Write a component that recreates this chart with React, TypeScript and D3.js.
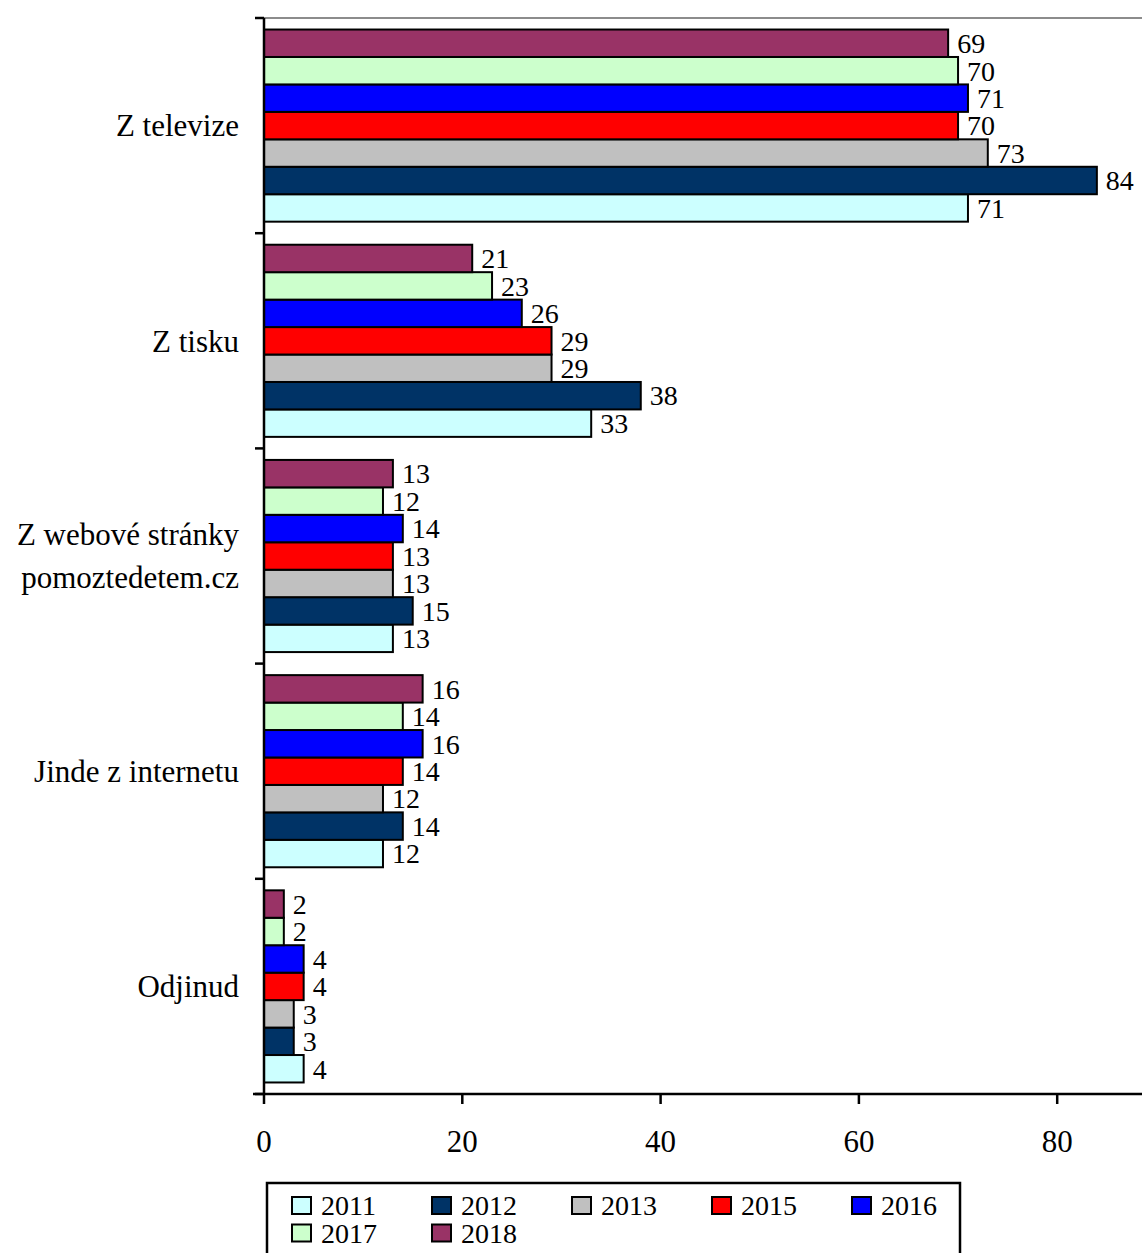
import { useEffect, useRef } from "react";
import * as d3 from "d3";

const categories = ["Z televize", "Z tisku", "Z webové stránky|pomoztedetem.cz", "Jinde z internetu", "Odjinud"];
const years = ["2011", "2012", "2013", "2015", "2016", "2017", "2018"];
const colors = ["#CCFFFF", "#003366", "#C0C0C0", "#FF0000", "#0000FF", "#CCFFCC", "#993366"];

const values2011 = [71, 33, 13, 12, 4];
const values2012 = [84, 38, 15, 14, 3];
const values2013 = [73, 29, 13, 12, 3];
const values2015 = [70, 29, 13, 14, 4];
const values2016 = [71, 26, 14, 16, 4];
const values2017 = [70, 23, 12, 14, 2];
const values2018 = [69, 21, 13, 16, 2];

const xTicks = [0, 20, 40, 60, 80];

const seriesValues = [values2011, values2012, values2013, values2015, values2016, values2017, values2018];

export default function App() {
    const chartRef = useRef<SVGSVGElement | null>(null);

    useEffect(() => {
        if (!chartRef.current) return;

        const width = 1142;
        const height = 1253;
        const left = 264;
        const top = 18;
        const bottom = 1094;
        const font = "'Liberation Serif', 'Times New Roman', serif";

        d3.select(chartRef.current).selectAll("*").remove();

        const svg = d3.select(chartRef.current)
            .attr("width", width)
            .attr("height", height);

        const x = d3.scaleLinear().domain([0, 90]).range([left, left + 90 * 9.915]);

        const y0 = d3.scaleBand<string>().domain(categories).range([top, bottom]);

        // 2018 on top, 2011 at the bottom of each group
        const y1 = d3.scaleBand<string>()
            .domain(years.slice().reverse())
            .range([0, y0.bandwidth()])
            .paddingInner(0)
            .paddingOuter(0.42);

        // plot area border (only top visible)
        svg.append("rect")
            .attr("x", left)
            .attr("y", top)
            .attr("width", x(90) - left)
            .attr("height", bottom - top)
            .attr("fill", "none")
            .attr("stroke", "#8c8c8c")
            .attr("stroke-width", 2);

        const rows = categories.flatMap((c, ci) =>
            years.map((yr, yi) => ({ category: c, year: yr, value: seriesValues[yi][ci], color: colors[yi] }))
        );

        svg.selectAll("rect.bar")
            .data(rows)
            .enter()
            .append("rect")
            .attr("class", "bar")
            .attr("x", x(0))
            .attr("y", (d) => (y0(d.category) ?? 0) + (y1(d.year) ?? 0))
            .attr("width", (d) => x(d.value) - x(0))
            .attr("height", y1.bandwidth())
            .attr("fill", (d) => d.color)
            .attr("stroke", "#000")
            .attr("stroke-width", 2);

        svg.selectAll("text.val")
            .data(rows)
            .enter()
            .append("text")
            .attr("class", "val")
            .attr("x", (d) => x(d.value) + 9)
            .attr("y", (d) => (y0(d.category) ?? 0) + (y1(d.year) ?? 0) + y1.bandwidth() / 2)
            .attr("dy", "0.35em")
            .attr("font-family", font)
            .attr("font-size", 28)
            .attr("fill", "#000")
            .text((d) => d.value);

        // left axis
        svg.append("line")
            .attr("x1", left).attr("x2", left)
            .attr("y1", top).attr("y2", bottom)
            .attr("stroke", "#000").attr("stroke-width", 2.5);

        const boundaries = categories.map((c) => y0(c) ?? 0).concat([bottom]);
        svg.selectAll("line.ytick")
            .data(boundaries)
            .enter()
            .append("line")
            .attr("class", "ytick")
            .attr("x1", left - 9).attr("x2", left)
            .attr("y1", (d) => d).attr("y2", (d) => d)
            .attr("stroke", "#000").attr("stroke-width", 2.5);

        const catLabels = svg.selectAll("text.cat")
            .data(categories)
            .enter()
            .append("text")
            .attr("class", "cat")
            .attr("text-anchor", "end")
            .attr("font-family", font)
            .attr("font-size", 31)
            .attr("fill", "#000");

        catLabels.each(function (d) {
            const lines = d.split("|");
            const cy = (y0(d) ?? 0) + y0.bandwidth() / 2;
            const lh = 43;
            lines.forEach((ln, i) => {
                d3.select(this)
                    .append("tspan")
                    .attr("x", left - 25)
                    .attr("y", cy + (i - (lines.length - 1) / 2) * lh)
                    .attr("dy", "0.35em")
                    .text(ln);
            });
        });

        // bottom axis
        svg.append("line")
            .attr("x1", left - 11).attr("x2", width)
            .attr("y1", bottom).attr("y2", bottom)
            .attr("stroke", "#000").attr("stroke-width", 2.5);

        svg.selectAll("line.xtick")
            .data(xTicks)
            .enter()
            .append("line")
            .attr("class", "xtick")
            .attr("x1", (d) => x(d)).attr("x2", (d) => x(d))
            .attr("y1", bottom).attr("y2", bottom + 10)
            .attr("stroke", "#000").attr("stroke-width", 2.5);

        svg.selectAll("text.xtick")
            .data(xTicks)
            .enter()
            .append("text")
            .attr("class", "xtick")
            .attr("x", (d) => x(d))
            .attr("y", 1152)
            .attr("text-anchor", "middle")
            .attr("font-family", font)
            .attr("font-size", 31)
            .attr("fill", "#000")
            .text((d) => d);

        // legend
        svg.append("rect")
            .attr("x", 267)
            .attr("y", 1183)
            .attr("width", 693)
            .attr("height", 90)
            .attr("fill", "#fff")
            .attr("stroke", "#000")
            .attr("stroke-width", 2.5);

        const legend = svg.selectAll("g.leg")
            .data(years)
            .enter()
            .append("g")
            .attr("class", "leg")
            .attr("transform", (d, i) => `translate(${292 + (i % 5) * 140}, ${1197 + Math.floor(i / 5) * 27.5})`);

        legend.append("rect")
            .attr("width", 19)
            .attr("height", 17)
            .attr("fill", (d, i) => colors[i])
            .attr("stroke", "#000")
            .attr("stroke-width", 2);

        legend.append("text")
            .attr("x", 29)
            .attr("y", 18)
            .attr("font-family", font)
            .attr("font-size", 28)
            .attr("fill", "#000")
            .text((d) => d);
    }, []);

    return (
        <svg
            ref={(el) => { if (el) chartRef.current = el; }}
            style={{ position: "absolute", left: 0, top: 0, background: "#fff" }}
        ></svg>
    );
}
